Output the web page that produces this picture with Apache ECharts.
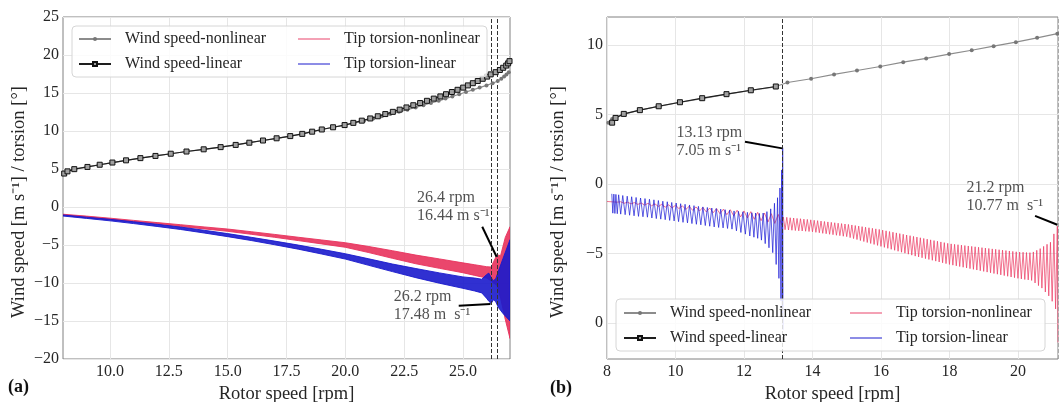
<!DOCTYPE html>
<html><head><meta charset="utf-8">
<script src="https://cdn.jsdelivr.net/npm/echarts@6/dist/echarts.min.js"></script>
<style>html,body{margin:0;padding:0;background:#fff}#c{width:1059px;height:402px}</style>
</head><body><div id="c"></div>
<script>
// ---------------- DATA ----------------
const seriesNames = ['Wind speed-nonlinear','Wind speed-linear','Tip torsion-nonlinear','Tip torsion-linear'];
const xTicksLeft = [10, 12.5, 15, 17.5, 20, 22.5, 25];
const yTicksRightValues = [-10, -5, 0, 5, 10];
const yTicksRightLabels = ['0', '\u22125', '0', '5', '10'];

// Panel (a): wind speed at marker points (m/s) and rotor speed (rpm)
const windLeft = [4.40,4.69,4.98,5.27,5.56,5.85,6.14,6.43,6.72,7.01,7.30,7.59,7.88,8.17,8.46,8.75,9.04,9.33,9.62,9.91,10.20,10.49,10.78,11.07,11.36,11.65,11.94,12.23,12.52,12.81,13.10,13.39,13.68,13.97,14.26,14.55,14.84,15.13,15.42,15.71,16.00,16.29,16.58,16.87,17.16,17.45,17.74,18.03,18.32,18.61,18.90,19.19];
const rpmLinearLeft = [8.05,8.19,8.48,9.04,9.56,10.10,10.68,11.29,11.93,12.58,13.25,13.98,14.70,15.34,15.92,16.50,17.08,17.66,18.17,18.59,19.00,19.48,19.97,20.34,20.70,21.06,21.38,21.70,22.02,22.31,22.60,22.89,23.18,23.47,23.76,24.04,24.28,24.53,24.77,25.01,25.21,25.42,25.63,25.84,26.03,26.18,26.39,26.57,26.71,26.84,26.92,26.98];
const rpmNonlinLeft = [8.05,8.19,8.48,9.04,9.56,10.10,10.68,11.29,11.93,12.58,13.25,13.98,14.70,15.34,15.92,16.50,17.08,17.66,18.17,18.59,19.00,19.48,19.97,20.39,20.80,21.19,21.55,21.91,22.28,22.64,22.99,23.32,23.64,23.97,24.26,24.55,24.84,25.13,25.42,25.71,26.00,26.26,26.48,26.63,26.75,26.85,26.95];

// Panel (a): tip torsion envelope [rpm, lower, upper] (deg)
const pinkBandLeft = [
 [8.0,-1.05,-0.95],[9.0,-1.34,-1.20],[10.0,-1.63,-1.47],[11.0,-1.94,-1.76],[12.0,-2.25,-2.05],
 [13.0,-2.57,-2.33],[14.0,-2.88,-2.62],[15.0,-3.20,-2.90],[16.0,-3.59,-3.25],[17.0,-3.99,-3.61],
 [18.0,-4.42,-3.98],[19.0,-4.86,-4.34],[20.0,-5.30,-4.70],[21.0,-6.00,-5.20],[22.0,-6.75,-5.75],
 [23.0,-7.47,-6.33],[24.0,-8.07,-6.83],[25.0,-8.65,-7.35],[25.5,-9.00,-7.60],[26.0,-9.35,-7.85],
 [26.2,-9.70,-7.90],[26.3,-10.00,-7.20],[26.45,-10.30,-6.30],[26.6,-12.00,-6.40],[26.8,-14.80,-4.00],[27.0,-17.30,-2.60]
];
const blueBandLeft = [
 [8.0,-1.19,-1.05],[9.0,-1.50,-1.34],[10.0,-1.82,-1.62],[11.0,-2.18,-1.94],[12.0,-2.56,-2.28],
 [13.0,-2.96,-2.64],[14.0,-3.42,-3.06],[15.0,-3.90,-3.50],[16.0,-4.41,-3.99],[17.0,-4.97,-4.49],
 [18.0,-5.55,-5.01],[19.0,-6.19,-5.57],[20.0,-6.85,-6.15],[21.0,-7.68,-6.82],[22.0,-8.50,-7.50],
 [23.0,-9.30,-8.10],[24.0,-10.03,-8.67],[25.0,-10.70,-9.20],[25.5,-11.05,-9.35],[25.8,-11.30,-9.50],
 [26.0,-12.00,-8.90],[26.1,-12.40,-8.70],[26.2,-12.70,-9.30],[26.3,-12.20,-9.70],[26.4,-12.50,-9.40],
 [26.5,-13.20,-8.50],[26.7,-14.00,-6.80],[27.0,-15.00,-4.30]
];

// Panel (b): wind speed
const rpmNonlinRight = [8.04,8.15,8.24,8.48,8.94,9.47,10.11,10.77,11.47,12.19,12.91,13.27,13.96,14.63,15.30,15.98,16.65,17.32,17.99,18.65,19.29,19.94,20.56,21.15];
const windNonlinRight = [4.40,4.66,4.78,5.00,5.29,5.55,5.86,6.12,6.43,6.72,6.98,7.29,7.56,7.87,8.15,8.44,8.75,9.02,9.33,9.61,9.90,10.19,10.50,10.80];
const rpmLinearRight = [8.15,8.25,8.49,8.96,9.51,10.13,10.78,11.49,12.20,12.93];
const windLinearRight = [4.40,4.74,5.03,5.30,5.58,5.87,6.16,6.45,6.73,7.00];

// Panel (b): tip torsion turning points [rpm, deg]
const blueRightUpper = [[8.14,-0.72],[8.20,-0.74],[8.26,-0.76],[8.34,-0.79],[8.46,-0.84],[8.59,-0.89],[8.72,-0.93],[8.85,-0.98],[8.98,-1.02],[9.11,-1.06],[9.24,-1.11],[9.37,-1.15],[9.50,-1.20],[9.63,-1.25],[9.76,-1.29],[9.89,-1.34],[10.02,-1.38],[10.15,-1.43],[10.28,-1.47],[10.41,-1.52],[10.54,-1.57],[10.67,-1.62],[10.80,-1.66],[10.93,-1.70],[11.06,-1.74],[11.19,-1.78],[11.32,-1.82],[11.45,-1.86],[11.58,-1.90],[11.71,-1.95],[11.84,-1.98],[11.97,-2.01],[12.10,-2.05],[12.23,-2.08],[12.34,-2.10],[12.45,-2.13],[12.56,-2.10],[12.67,-2.00],[12.78,-1.80],[12.89,-1.40],[12.98,-1.00],[13.05,-0.30],[13.10,1.00],[13.13,2.60]];
const blueRightLower = [[8.17,-2.11],[8.23,-2.13],[8.30,-2.15],[8.40,-2.18],[8.53,-2.22],[8.66,-2.26],[8.79,-2.30],[8.92,-2.34],[9.05,-2.37],[9.18,-2.40],[9.31,-2.46],[9.44,-2.50],[9.57,-2.54],[9.70,-2.58],[9.83,-2.63],[9.96,-2.67],[10.09,-2.72],[10.22,-2.77],[10.35,-2.81],[10.48,-2.86],[10.61,-2.91],[10.74,-2.95],[10.87,-3.00],[11.00,-3.05],[11.13,-3.10],[11.26,-3.14],[11.39,-3.17],[11.52,-3.21],[11.65,-3.26],[11.78,-3.38],[11.91,-3.50],[12.04,-3.62],[12.17,-3.75],[12.29,-3.84],[12.40,-3.92],[12.51,-4.05],[12.62,-4.30],[12.73,-4.60],[12.84,-4.95],[12.94,-5.80],[13.02,-6.80],[13.08,-8.40],[13.12,-9.50],[13.14,-10.50]];
const pinkRightUpper = [[8.00,-1.27],[8.40,-1.29],[8.60,-1.32],[8.80,-1.35],[9.00,-1.38],[9.20,-1.40],[9.40,-1.44],[9.60,-1.47],[9.80,-1.51],[10.00,-1.54],[10.20,-1.58],[10.40,-1.62],[10.60,-1.66],[10.80,-1.70],[11.00,-1.74],[11.20,-1.78],[11.40,-1.82],[11.60,-1.86],[11.80,-1.90],[12.00,-1.95],[12.20,-2.00],[12.40,-2.05],[12.60,-2.10],[12.80,-2.15],[13.00,-2.20],
 [13.15,-2.39],[13.25,-2.41],[13.35,-2.44],[13.45,-2.46],[13.55,-2.49],[13.65,-2.51],[13.75,-2.54],[13.85,-2.56],[13.95,-2.59],[14.05,-2.62],[14.15,-2.65],[14.25,-2.68],[14.35,-2.71],[14.45,-2.74],[14.55,-2.77],[14.65,-2.80],[14.75,-2.83],[14.85,-2.86],[14.95,-2.89],[15.05,-2.92],[15.15,-2.96],[15.25,-3.00],[15.35,-3.04],[15.45,-3.08],[15.55,-3.12],[15.65,-3.16],[15.75,-3.20],[15.85,-3.24],[15.95,-3.28],[16.05,-3.33],[16.15,-3.38],[16.25,-3.43],[16.35,-3.48],[16.45,-3.53],[16.55,-3.58],[16.65,-3.63],[16.75,-3.68],[16.85,-3.73],[16.95,-3.78],[17.05,-3.83],[17.15,-3.88],[17.25,-3.93],[17.35,-3.98],[17.45,-4.03],[17.55,-4.08],[17.65,-4.13],[17.75,-4.18],[17.85,-4.23],[17.95,-4.28],[18.05,-4.32],[18.15,-4.35],[18.25,-4.38],[18.35,-4.41],[18.45,-4.44],[18.55,-4.47],[18.65,-4.50],[18.75,-4.53],[18.85,-4.56],[18.95,-4.59],[19.05,-4.62],[19.15,-4.65],[19.25,-4.68],[19.35,-4.71],[19.45,-4.74],[19.55,-4.77],[19.65,-4.80],[19.75,-4.83],[19.85,-4.86],[19.95,-4.89],[20.05,-4.91],[20.15,-4.92],[20.25,-4.94],[20.35,-4.95],[20.45,-4.90],[20.55,-4.78],[20.65,-4.66],[20.75,-4.50],[20.85,-4.35],[20.95,-4.20],[21.05,-3.60],[21.15,-3.05]];
const pinkRightLower = [[8.30,-1.32],[8.50,-1.40],[8.70,-1.44],[8.90,-1.48],[9.10,-1.53],[9.30,-1.58],[9.50,-1.63],[9.70,-1.68],[9.90,-1.73],[10.10,-1.78],[10.30,-1.84],[10.50,-1.90],[10.70,-1.96],[10.90,-2.02],[11.10,-2.08],[11.30,-2.15],[11.50,-2.22],[11.70,-2.30],[11.90,-2.38],[12.10,-2.46],[12.30,-2.55],[12.50,-2.65],[12.70,-2.75],[12.90,-2.85],[13.10,-2.95],
 [13.20,-3.30],[13.30,-3.32],[13.40,-3.34],[13.50,-3.36],[13.60,-3.38],[13.70,-3.39],[13.80,-3.41],[13.90,-3.43],[14.00,-3.45],[14.10,-3.49],[14.20,-3.52],[14.30,-3.56],[14.40,-3.59],[14.50,-3.63],[14.60,-3.66],[14.70,-3.70],[14.80,-3.73],[14.90,-3.77],[15.00,-3.80],[15.10,-3.87],[15.20,-3.94],[15.30,-4.01],[15.40,-4.08],[15.50,-4.15],[15.60,-4.22],[15.70,-4.29],[15.80,-4.36],[15.90,-4.43],[16.00,-4.50],[16.10,-4.57],[16.20,-4.64],[16.30,-4.71],[16.40,-4.78],[16.50,-4.85],[16.60,-4.92],[16.70,-4.99],[16.80,-5.06],[16.90,-5.13],[17.00,-5.20],[17.10,-5.26],[17.20,-5.32],[17.30,-5.38],[17.40,-5.44],[17.50,-5.50],[17.60,-5.56],[17.70,-5.62],[17.80,-5.68],[17.90,-5.74],[18.00,-5.80],[18.10,-5.85],[18.20,-5.90],[18.30,-5.95],[18.40,-6.00],[18.50,-6.05],[18.60,-6.10],[18.70,-6.15],[18.80,-6.20],[18.90,-6.25],[19.00,-6.30],[19.10,-6.35],[19.20,-6.40],[19.30,-6.45],[19.40,-6.50],[19.50,-6.55],[19.60,-6.60],[19.70,-6.65],[19.80,-6.70],[19.90,-6.75],[20.00,-6.80],[20.10,-6.84],[20.20,-6.88],[20.30,-6.91],[20.40,-6.95],[20.50,-7.13],[20.60,-7.32],[20.70,-7.50],[20.80,-7.78],[20.90,-8.06],[21.00,-8.45],[21.10,-9.00],[21.17,-11.40]];

// Annotations
const annoLeftPos = [[23.05, 2.46], [22.06, -10.62]];
const annoLeftText = ['26.4 rpm\n16.44 m s\u207B\u00B9', '26.2 rpm\n17.48 m  s\u207B\u00B9'];
const arrowsLeft = [[[25.82,-2.6],[26.43,-6.55]], [[24.82,-13.0],[26.17,-12.76]]];
const vlinesLeft = [26.2, 26.45];
const annoRightPos = [[10.03, 4.35], [18.5, 0.34]];
const annoRightText = ['13.13 rpm\n7.05 m s\u207B\u00B9', '21.2 rpm\n10.77 m  s\u207B\u00B9'];
const arrowsRight = [[[12.03,3.03],[13.12,2.55]], [[20.5,-2.3],[21.15,-2.94]]];
const vlinesRight = [13.13, 21.17];

// ---------------- STYLE ----------------
const FONT = 'Liberation Serif';
const TXT = '#262626';
const C_GRAY = '#8c8c8c', C_BLACK = '#1e1e1e';
const C_PINK = '#e8325c', C_BLUE = '#1a1acc';
const C_PINK_L = 'rgba(236,60,100,0.72)', C_BLUE_L = 'rgba(30,30,215,0.72)';

function pairs(xs, ys) { return xs.map((x, i) => [x, ys[i]]); }
function merge(a, b) { return a.concat(b).sort((p, q) => p[0] - q[0]); }

function windSeries(gi, nonX, nonY, linX, linY) {
  return [
    { type:'line', name:seriesNames[0], xAxisIndex:gi, yAxisIndex:gi, data:pairs(nonX, nonY),
      symbol:'circle', symbolSize:4, showAllSymbol:true, z:5,
      lineStyle:{color:C_GRAY, width:1.2}, itemStyle:{color:'#777'} },
    { type:'line', name:seriesNames[1], xAxisIndex:gi, yAxisIndex:gi, data:pairs(linX, linY),
      symbol:'rect', symbolSize:5, showAllSymbol:true, z:6,
      lineStyle:{color:C_BLACK, width:1.2}, itemStyle:{color:'#a0a0a0', borderColor:'#111', borderWidth:1} }
  ];
}
function bandSeries(name, band, color) {
  return { type:'custom', name, xAxisIndex:0, yAxisIndex:0, clip:true, z:3,
    data: band, encode:{x:0, y:[1,2]}, itemStyle:{color},
    renderItem: (params, api) => {
      if (params.dataIndex !== 0) return null;
      const pts = [];
      band.forEach(r => pts.push(api.coord([r[0], r[2]])));
      for (let i = band.length - 1; i >= 0; i--) pts.push(api.coord([band[i][0], band[i][1]]));
      return { type:'polygon', shape:{points:pts}, style:{fill:color, stroke:color, lineWidth:1, opacity:0.9} };
    } };
}
function annoSeries(gi, pos, texts, arrows, vlines) {
  return [
    { type:'scatter', xAxisIndex:gi, yAxisIndex:gi, symbolSize:0, silent:true, z:8,
      data: pos.map((p, i) => ({ value:p, label:{ formatter: texts[i] } })),
      label:{ show:true, position:[0,0], align:'left', verticalAlign:'top', fontFamily:FONT, fontSize:16, lineHeight:18, color:TXT },
      markLine:{ silent:true, symbol:['none','arrow'], symbolSize:[0,10], label:{show:false},
        lineStyle:{color:'#000', width:2, type:'solid'},
        data: arrows.map(a => [{coord:a[0]}, {coord:a[1]}]) } },
    { type:'scatter', xAxisIndex:gi, yAxisIndex:gi, symbolSize:0, silent:true, data:[], z:7,
      markLine:{ silent:true, symbol:'none', label:{show:false},
        lineStyle:{color:'#333', width:1, type:[4,2]},
        data: vlines.map((v, i) => ({ xAxis:v, lineStyle: i === 1 && gi === 1 ? {color:'#aaa'} : {} })) } }
  ];
}

const axisLabelBase = { fontFamily:FONT, fontSize:16, color:TXT };
const splitLine = { show:true, lineStyle:{ color:'#e6e6e6', width:1 } };
const minus = v => (v < 0 ? '\u2212' + Math.abs(v) : String(v));

const legendBase = { orient:'vertical', itemWidth:32, itemHeight:5, itemGap:9, padding:0, selectedMode:false, z:10,
  textStyle:{ fontFamily:FONT, fontSize:16, color:TXT, lineHeight:14, padding:[0,0,0,9] } };
const legWind = { data:[seriesNames[0], seriesNames[1]] };
const legTor = { icon:'rect', itemHeight:1.6,
  data:[ { name:seriesNames[2], itemStyle:{color:'#f28aa2'} }, { name:seriesNames[3], itemStyle:{color:'#7070e0'} } ] };

const option = {
  animation:false,
  backgroundColor:'#fff',
  grid:[
    { left:63, top:17, width:447, height:342, show:true, borderColor:'#808080', borderWidth:1, backgroundColor:'transparent', outerBoundsMode:'none' },
    { left:607, top:17, width:451, height:342, show:true, borderColor:'#808080', borderWidth:1, backgroundColor:'transparent', outerBoundsMode:'none' }
  ],
  xAxis:[
    { type:'value', gridIndex:0, min:8, max:27,
      axisLabel:{ ...axisLabelBase, margin:5, customValues:xTicksLeft, formatter:v => v.toFixed(1) },
      axisTick:{ show:false, customValues:xTicksLeft }, axisLine:{show:false}, splitLine,
      name:'Rotor speed [rpm]', nameLocation:'middle', nameGap:22, nameTextStyle:{ fontFamily:FONT, fontSize:18.5, color:TXT } },
    { type:'value', gridIndex:1, min:8, max:21.17, interval:2,
      axisLabel:{ ...axisLabelBase, margin:5, showMaxLabel:false }, axisTick:{show:false}, axisLine:{show:false}, splitLine,
      name:'Rotor speed [rpm]', nameLocation:'middle', nameGap:22, nameTextStyle:{ fontFamily:FONT, fontSize:18.5, color:TXT } }
  ],
  yAxis:[
    { type:'value', gridIndex:0, min:-20, max:25, interval:5,
      axisLabel:{ ...axisLabelBase, margin:4, formatter:minus }, axisTick:{show:false}, axisLine:{show:false}, splitLine },
    { type:'value', gridIndex:1, min:-12.6, max:12,
      axisLabel:{ ...axisLabelBase, margin:4, customValues:yTicksRightValues,
        formatter:v => { const i = yTicksRightValues.indexOf(Math.round(v)); return i >= 0 ? yTicksRightLabels[i] : ''; } },
      axisTick:{ show:false, customValues:yTicksRightValues }, axisLine:{show:false}, splitLine }
  ],
  legend:[
    { ...legendBase, ...legWind, left:78, top:31 },
    { ...legendBase, ...legTor, left:298, top:31 },
    { ...legendBase, ...legWind, left:623, top:305 },
    { ...legendBase, ...legTor, left:850, top:305 }
  ],
  graphic:[
    { type:'rect', z:9, shape:{x:72, y:26, width:415, height:51, r:4}, style:{fill:'rgba(255,255,255,0.82)', stroke:'#d6d6d6', lineWidth:1} },
    { type:'rect', z:9, shape:{x:616, y:299, width:429, height:52, r:4}, style:{fill:'rgba(255,255,255,0.82)', stroke:'#d6d6d6', lineWidth:1} },
    { type:'text', z:10, x:19, y:202, rotation:Math.PI/2, style:{ text:'Wind speed [m s\u207B\u00B9] / torsion [\u00B0]', fontFamily:FONT, fontSize:18.5, fill:TXT, align:'center', verticalAlign:'middle' } },
    { type:'text', z:10, x:558, y:202, rotation:Math.PI/2, style:{ text:'Wind speed [m s\u207B\u00B9] / torsion [\u00B0]', fontFamily:FONT, fontSize:18.5, fill:TXT, align:'center', verticalAlign:'middle' } },
    { type:'text', z:10, x:8, y:387, style:{ text:'(a)', fontFamily:FONT, fontSize:18, fontWeight:'bold', fill:'#111', verticalAlign:'middle' } },
    { type:'text', z:10, x:550, y:388, style:{ text:'(b)', fontFamily:FONT, fontSize:18, fontWeight:'bold', fill:'#111', verticalAlign:'middle' } }
  ],
  series:[
    bandSeries(seriesNames[2], pinkBandLeft, C_PINK),
    bandSeries(seriesNames[3], blueBandLeft, C_BLUE),
    ...windSeries(0, rpmNonlinLeft, windLeft.slice(0, rpmNonlinLeft.length), rpmLinearLeft, windLeft),
    ...annoSeries(0, annoLeftPos, annoLeftText, arrowsLeft, vlinesLeft),
    { type:'line', name:seriesNames[2], xAxisIndex:1, yAxisIndex:1, data:merge(pinkRightUpper, pinkRightLower),
      symbol:'none', z:3, lineStyle:{ color:C_PINK_L, width:1 } },
    { type:'line', name:seriesNames[3], xAxisIndex:1, yAxisIndex:1, data:merge(blueRightUpper, blueRightLower),
      symbol:'none', z:4, lineStyle:{ color:C_BLUE_L, width:1 } },
    ...windSeries(1, rpmNonlinRight, windNonlinRight, rpmLinearRight, windLinearRight),
    ...annoSeries(1, annoRightPos, annoRightText, arrowsRight, vlinesRight)
  ]
};
const chart = echarts.init(document.getElementById('c'));
chart.setOption(option);
</script></body></html>
